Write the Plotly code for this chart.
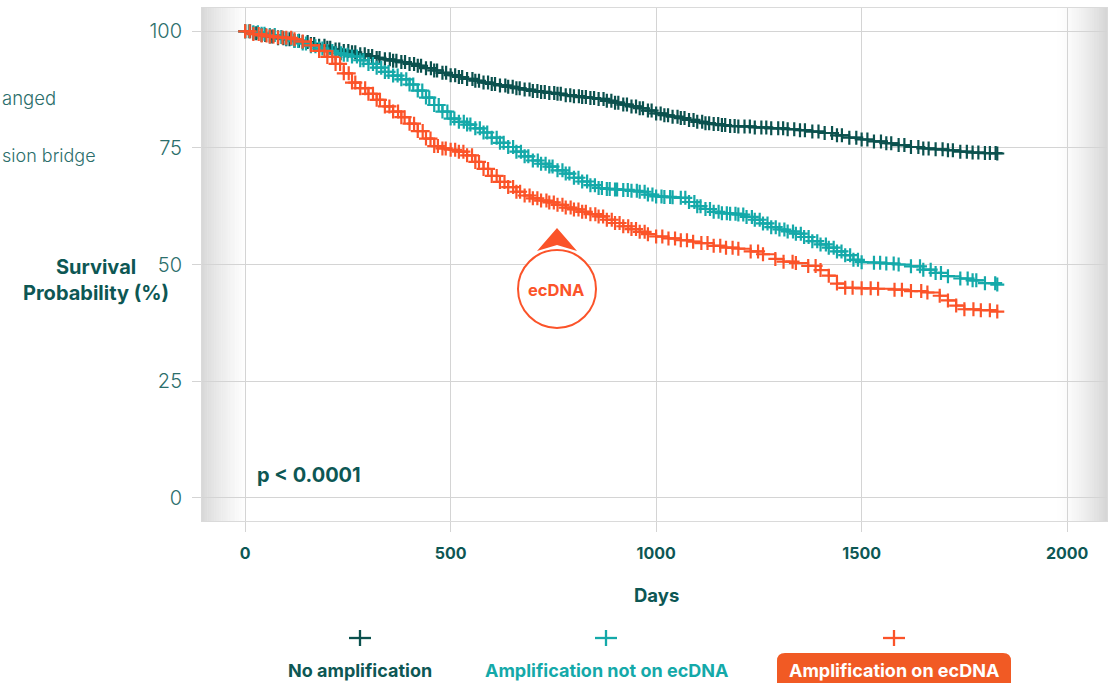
import bisect
import plotly.graph_objects as go

# Kaplan-Meier estimates (days, survival %) for each amplification group
no_amp_days = [0, 20, 40, 60, 80, 100, 120, 140, 160, 180, 200, 220, 240, 260, 280, 300, 320, 340, 360, 380,
               400, 420, 440, 460, 480, 500, 520, 540, 560, 580, 600, 620, 640, 660, 680, 700, 720, 740, 760, 780,
               800, 820, 840, 860, 880, 900, 920, 940, 960, 980, 1000, 1020, 1040, 1060, 1080, 1100, 1120, 1140,
               1160, 1180, 1200, 1240, 1280, 1320, 1350, 1380, 1410, 1440, 1470, 1500, 1530, 1560, 1590, 1620,
               1650, 1680, 1710, 1740, 1770, 1800, 1830]
no_amp_surv = [100.0, 99.6, 99.2, 98.9, 98.5, 98.3, 98.0, 97.7, 97.3, 96.9, 96.5, 96.1, 95.8, 95.5, 95.1, 94.7,
               94.3, 94.0, 93.7, 93.4, 93.0, 92.6, 92.1, 91.6, 91.1, 90.6, 90.2, 89.8, 89.4, 89.0, 88.7, 88.4,
               88.1, 87.8, 87.5, 87.2, 87.0, 86.8, 86.6, 86.3, 86.1, 85.9, 85.7, 85.5, 85.1, 84.7, 84.3, 83.9,
               83.5, 83.0, 82.4, 82.0, 81.7, 81.4, 81.0, 80.6, 80.3, 80.1, 79.9, 79.7, 79.6, 79.4, 79.2, 79.0,
               78.8, 78.5, 78.2, 77.7, 77.2, 76.8, 76.4, 76.0, 75.6, 75.2, 74.9, 74.7, 74.5, 74.2, 74.0, 73.9, 73.8]
no_amp_censored = [12, 27, 49, 66, 93, 108, 131, 152, 168, 193, 207, 229, 251, 268, 291, 309, 327, 352, 368,
                   389, 411, 428, 452, 467, 489, 511, 528, 553, 569, 591, 608, 633, 651, 668, 692, 711, 729, 752,
                   768, 791, 812, 829, 849, 872, 891, 908, 929, 951, 968, 989, 1011, 1029, 1052, 1069, 1091, 1112,
                   1129, 1151, 1168, 1191, 1215, 1228, 1256, 1268, 1297, 1309, 1336, 1362, 1395, 1428, 1452,
                   1487, 1514, 1547, 1572, 1604, 1638, 1663, 1697, 1722, 1756, 1784, 1812, 1826]

not_ec_days = [0, 20, 40, 60, 80, 100, 120, 140, 160, 180, 200, 220, 240, 260, 280, 300, 320, 340, 360, 380,
               400, 420, 440, 460, 480, 500, 520, 540, 560, 580, 600, 620, 640, 660, 680, 700, 720, 740, 760, 780,
               800, 820, 840, 860, 880, 900, 920, 940, 960, 980, 1000, 1020, 1040, 1060, 1080, 1100, 1120, 1140,
               1160, 1180, 1200, 1220, 1240, 1260, 1280, 1300, 1320, 1340, 1360, 1380, 1400, 1420, 1440, 1460,
               1480, 1500, 1530, 1560, 1590, 1620, 1650, 1680, 1710, 1740, 1770, 1800, 1830]
not_ec_surv = [100.0, 99.8, 99.5, 99.2, 98.8, 98.4, 97.9, 97.4, 96.8, 96.3, 95.8, 95.3, 95.0, 94.6, 93.8, 93.0,
               92.2, 91.3, 90.5, 89.7, 88.6, 87.3, 85.8, 84.2, 82.8, 81.3, 80.6, 80.0, 79.2, 78.3, 77.2, 76.1,
               75.2, 74.2, 73.2, 72.3, 71.6, 71.0, 70.2, 69.5, 68.6, 67.8, 67.0, 66.4, 66.2, 66.1, 66.0, 65.8,
               65.6, 65.0, 64.6, 64.5, 64.4, 64.3, 63.4, 62.5, 61.9, 61.3, 61.0, 60.9, 60.7, 60.2, 59.6, 58.8,
               58.0, 57.5, 57.1, 56.6, 55.9, 55.0, 54.3, 53.6, 52.8, 52.0, 51.0, 50.5, 50.4, 50.2, 50.0, 49.6,
               48.9, 48.2, 47.5, 47.0, 46.6, 46.0, 45.7]
not_ec_censored = [9, 31, 47, 72, 88, 113, 129, 148, 171, 188, 212, 233, 249, 272, 288, 311, 331, 349, 371,
                   392, 409, 431, 448, 471, 492, 509, 532, 548, 571, 589, 612, 629, 652, 671, 689, 712, 731, 748,
                   772, 789, 811, 832, 851, 868, 887, 905, 931, 953, 972, 991, 1013, 1034, 1071, 1093, 1108, 1131,
                   1152, 1172, 1193, 1212, 1233, 1252, 1271, 1291, 1312, 1333, 1352, 1371, 1392, 1413, 1432, 1451,
                   1472, 1491, 1545, 1578, 1642, 1668, 1693, 1758, 1779, 1825]

ec_days = [0, 20, 40, 60, 80, 100, 120, 140, 160, 180, 200, 220, 240, 260, 280, 300, 320, 340, 360, 380,
           400, 420, 440, 460, 480, 500, 520, 540, 560, 580, 600, 620, 640, 660, 680, 700, 720, 740, 760, 780,
           800, 820, 840, 860, 880, 900, 920, 940, 960, 980, 1000, 1030, 1060, 1090, 1110, 1140, 1170, 1200,
           1230, 1260, 1290, 1310, 1340, 1370, 1400, 1420, 1440, 1460, 1500, 1540, 1580, 1620, 1660, 1690,
           1710, 1730, 1750, 1790, 1830]
ec_surv = [100.0, 99.4, 99.1, 98.9, 98.7, 98.6, 98.3, 97.8, 97.0, 95.8, 94.5, 93.0, 91.0, 89.0, 87.8, 86.6,
           85.3, 83.9, 82.8, 81.6, 80.2, 78.6, 77.0, 75.4, 74.9, 74.6, 74.2, 73.4, 72.0, 70.5, 69.0, 67.7,
           66.6, 65.6, 64.8, 64.2, 63.7, 63.3, 62.8, 62.2, 61.8, 61.3, 60.8, 60.3, 59.6, 58.9, 58.2, 57.6,
           57.0, 56.5, 56.0, 55.6, 55.2, 54.9, 54.6, 54.0, 53.6, 53.4, 52.8, 52.2, 51.2, 50.6, 50.3, 49.7,
           48.8, 47.6, 45.9, 45.0, 44.9, 44.8, 44.6, 44.3, 44.0, 43.3, 42.3, 41.2, 40.4, 40.2, 39.9]
ec_censored = [11, 33, 52, 69, 91, 112, 193, 212, 231, 252, 268, 292, 311, 328, 351, 372, 388, 411, 432, 451,
               469, 488, 511, 531, 552, 569, 591, 612, 631, 652, 669, 692, 711, 733, 751, 772, 792, 811, 829, 852,
               871, 892, 911, 932, 951, 972, 1015, 1046, 1075, 1125, 1156, 1186, 1248, 1332, 1388, 1478, 1522,
               1598, 1645, 1772, 1812]

group_names = ["No amplification", "Amplification not on ecDNA", "Amplification on ecDNA"]
x_ticks = [0, 500, 1000, 1500, 2000]
y_ticks = [0, 25, 50, 75, 100]

DARK = "#0b514e"
TEAL = "#14a9a9"
ORANGE = "#fb5329"
LABEL_ORANGE = "#f15a24"
TEXT_DARK = "#0d5754"
TICK_TEXT = "#2b6e6b"
GRID = "#d4d4d4"
FONT = "Inter"

W, H = 1114, 683
L, R, T, B = 202, 1107, 8, 521


def fx(px):
    return (px - L) / (R - L)


def fy(py):
    return (B - py) / (B - T)


def km_value(days, surv, t):
    """Survival of a right-continuous step curve at time t."""
    return surv[bisect.bisect_right(days, t) - 1]


fig = go.Figure()
groups = [(no_amp_days, no_amp_surv, no_amp_censored, DARK, group_names[0]),
          (not_ec_days, not_ec_surv, not_ec_censored, TEAL, group_names[1]),
          (ec_days, ec_surv, ec_censored, ORANGE, group_names[2])]
for days, surv, cens, color, name in groups:
    mark = dict(symbol="cross-thin", size=10, line=dict(width=2.2, color=color))
    fig.add_trace(go.Scatter(
        x=days, y=surv, name=name, mode="lines+markers",
        line=dict(shape="hv", width=2, color=color), marker=mark,
        showlegend=False, hoverinfo="skip"))
    fig.add_trace(go.Scatter(
        x=cens, y=[km_value(days, surv, t) for t in cens], name=name + " (censored)",
        mode="markers", marker=mark, showlegend=False, hoverinfo="skip"))

shapes = []
# soft grey shading along the left and right edges of the plot box
n = 24
for i in range(n):
    t = i / n
    g = int(216 + (255 - 216) * (t ** 0.8))
    shapes.append(dict(type="rect", xref="x domain", yref="y domain", layer="below",
                       x0=i * 42 / n / (R - L), x1=(i + 1) * 42 / n / (R - L) + 0.0005,
                       y0=0, y1=1, line=dict(width=0), fillcolor=f"rgb({g},{g},{g})"))
for i in range(n):
    t = i / n
    g = int(255 - (255 - 212) * (t ** 1.6))
    x0 = (1055 - L + i * 52 / n) / (R - L)
    x1 = (1055 - L + (i + 1) * 52 / n) / (R - L) + 0.0005
    shapes.append(dict(type="rect", xref="x domain", yref="y domain", layer="below",
                       x0=x0, x1=min(x1, 1), y0=0, y1=1, line=dict(width=0),
                       fillcolor=f"rgb({g},{g},{g})"))

# ecDNA callout: arrowhead and ring
shapes.append(dict(type="path", xref="paper", yref="paper", layer="above",
                   path=f"M {fx(537)},{fy(251)} L {fx(557)},{fy(228)} L {fx(577)},{fy(251)} "
                        f"L {fx(557)},{fy(245)} Z",
                   fillcolor=ORANGE, line=dict(width=0)))
shapes.append(dict(type="circle", xref="paper", yref="paper", layer="above",
                   x0=fx(518), x1=fx(596), y0=fy(328), y1=fy(250),
                   fillcolor="white", line=dict(color=ORANGE, width=2)))

# legend crosses
for cx, color in [(360, DARK), (606, TEAL), (894, ORANGE)]:
    shapes.append(dict(type="line", xref="paper", yref="paper", x0=fx(cx - 11), x1=fx(cx + 11),
                       y0=fy(638), y1=fy(638), line=dict(color=color, width=2.3)))
    shapes.append(dict(type="line", xref="paper", yref="paper", x0=fx(cx), x1=fx(cx),
                       y0=fy(630), y1=fy(646), line=dict(color=color, width=2.3)))

# rounded label box for the ecDNA group
r = 8
bx0, bx1, by0, by1 = 777, 1011, 653, 700
shapes.append(dict(type="path", xref="paper", yref="paper",
                   path=(f"M {fx(bx0)},{fy(by1)} L {fx(bx0)},{fy(by0 + r)} "
                         f"Q {fx(bx0)},{fy(by0)} {fx(bx0 + r)},{fy(by0)} "
                         f"L {fx(bx1 - r)},{fy(by0)} Q {fx(bx1)},{fy(by0)} {fx(bx1)},{fy(by0 + r)} "
                         f"L {fx(bx1)},{fy(by1)} Z"),
                   fillcolor=LABEL_ORANGE, line=dict(width=0)))

annotations = [
    dict(text="ecDNA", x=fx(556), y=fy(290), font=dict(size=16.5, color=ORANGE, weight="bold")),
    dict(text="p < 0.0001", x=fx(255), y=fy(475), xanchor="left",
         font=dict(size=20, color=TEXT_DARK, weight="bold")),
    dict(text="Survival<br>Probability (%)", x=fx(96), y=fy(280),
         font=dict(size=20, color=TEXT_DARK, weight="bold")),
    dict(text="Days", x=fx(656), y=fy(595), font=dict(size=18.5, color=TEXT_DARK, weight="bold")),
    dict(text=group_names[0], x=fx(360), y=fy(670), font=dict(size=18, color=TEXT_DARK, weight="bold")),
    dict(text=group_names[1], x=fx(606), y=fy(670), font=dict(size=18, color=TEAL, weight="bold")),
    dict(text=group_names[2], x=fx(894), y=fy(670), font=dict(size=18, color="white", weight="bold")),
    dict(text="anged", x=fx(0), y=fy(98), xanchor="left",
         font=dict(size=18.5, color=TICK_TEXT, weight=300)),
    dict(text="sion bridge", x=fx(0), y=fy(155), xanchor="left",
         font=dict(size=18, color=TICK_TEXT, weight=300)),
]
for a in annotations:
    a.setdefault("xanchor", "center")
    a.update(xref="paper", yref="paper", yanchor="middle", showarrow=False)

fig.update_layout(
    width=W, height=H,
    margin=dict(l=L, r=W - R, t=T, b=H - B),
    paper_bgcolor="white", plot_bgcolor="white",
    font=dict(family=FONT),
    shapes=shapes, annotations=annotations,
    xaxis=dict(range=[-105, 2097], tickvals=x_ticks, ticks="outside", ticklen=10, tickcolor=GRID,
               showgrid=True, gridcolor=GRID, gridwidth=1, zeroline=False,
               showline=True, mirror=True, linecolor="#dadada", linewidth=1,
               tickfont=dict(size=16, color=TEXT_DARK, weight="bold", family=FONT),
               ticklabelstandoff=8),
    yaxis=dict(range=[-5, 105], tickvals=y_ticks, ticks="outside", ticklen=9, tickcolor=GRID,
               showgrid=True, gridcolor=GRID, gridwidth=1, zeroline=False,
               showline=True, mirror=True, linecolor="#dadada", linewidth=1,
               tickfont=dict(size=20, color=TICK_TEXT, weight=300, family=FONT),
               ticklabelstandoff=6),
)

fig.write_html("out.html")
